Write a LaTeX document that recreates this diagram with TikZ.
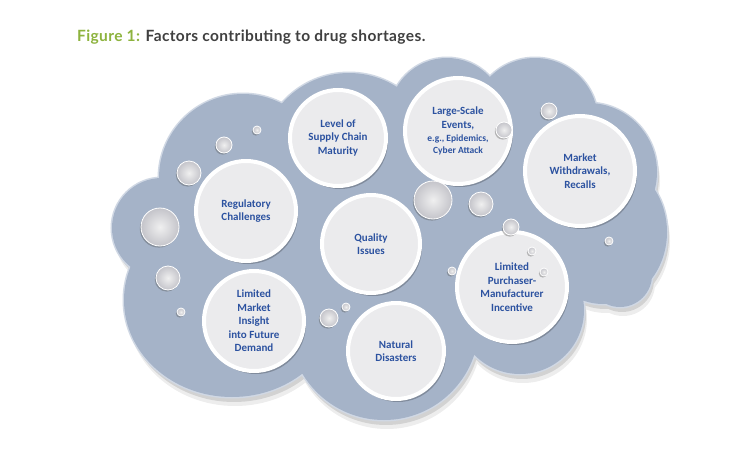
\documentclass[tikz,border=0pt]{standalone}
\usepackage{fontspec}
\setmainfont{Carlito}
\newfontfamily\titlefont{Lato}[LetterSpace=2.5]
\definecolor{cloud}{RGB}{165,179,200}
\definecolor{cloudrim}{RGB}{208,216,228}
\definecolor{labelblue}{RGB}{44,82,160}
\definecolor{figgreen}{RGB}{141,179,62}
\definecolor{titlegrey}{RGB}{64,64,64}
\definecolor{discfill}{RGB}{235,235,237}
\definecolor{bubblegrey}{RGB}{196,196,202}
\newcommand\cloudlobes{(162,228) circle[radius=50] (243,178) circle[radius=84] (349,162) circle[radius=89] (447,116) circle[radius=58] (535,121) circle[radius=63] (588,172) circle[radius=69] (603,232) ellipse[x radius=64, y radius=72] (620,275) circle[radius=32] (520,310) circle[radius=64] (384,325) circle[radius=95] (232,300) ellipse[x radius=108, y radius=97]}
\newcommand\cloudcore{(170,185) -- (290,105) -- (397,97) -- (490,87) -- (590,110) -- (645,185) -- (632,290) -- (580,300) -- (472,352) -- (310,375) -- (145,265) -- cycle}
\newcommand\lblfont{\bfseries\fontsize{11}{13.5}\selectfont}
\tikzset{
  disc/.style={circle, draw=white, line width=4pt, fill=discfill, inner sep=0pt,
    minimum size=#1, align=center, text=labelblue, font=\lblfont,
    preaction={fill=black, fill opacity=.22, draw=none, transform canvas={xshift=2pt,yshift=-3pt}}},
  bubble/.style={circle, inner sep=0pt, minimum size=#1, draw=white, line width=.8pt,
    inner color=white!94!black, outer color=bubblegrey,
    preaction={fill=black!70, fill opacity=.35, draw=none, transform canvas={xshift=-1.2pt,yshift=-1.6pt}}},
}
\begin{document}
\begin{tikzpicture}[x=1pt,y=-1pt]
\useasboundingbox (0,0) rectangle (750,450);
\fill[white] (0,0) rectangle (750,450);
% title
\node[anchor=base west, inner sep=0pt, text=titlegrey, font=\titlefont\bfseries\fontsize{15.5}{18}\selectfont] (title) at (77,41) {\textcolor{figgreen}{Figure 1:} Factors contributing to drug shortages.};
% cloud shadow, rim and body
\fill[black, opacity=.07, shift={(3,9)}] \cloudlobes;
\fill[black, opacity=.11, shift={(2,5)}] \cloudlobes;
\draw[cloudrim, line width=3pt] \cloudlobes;
\fill[cloud] \cloudlobes;
\fill[cloud] \cloudcore;
% factor discs
\node[disc=96pt] (level) at (338,138) {Level of\\Supply Chain\\Maturity};
\node[disc=106pt] (large) at (458,131) {Large-Scale\\Events,\\{\fontsize{9.5}{11.5}\selectfont e.g., Epidemics,}\\[-2pt]{\fontsize{9.5}{11.5}\selectfont Cyber Attack}};
\node[disc=110pt] (market) at (580,171) {Market\\Withdrawals,\\Recalls};
\node[disc=100pt] (regulatory) at (246,211) {Regulatory\\Challenges};
\node[disc=98pt] (quality) at (371,244) {Quality\\Issues};
\node[disc=110pt] (purchaser) at (512,287) {Limited\\Purchaser-\\Manufacturer\\Incentive};
\node[disc=100pt] (insight) at (254,321) {Limited\\Market\\Insight\\into Future\\Demand};
\node[disc=96pt] (natural) at (396,351) {Natural\\Disasters};
% bubbles
\node[bubble=8pt] (b1) at (257,130) {};
\node[bubble=16pt] (b2) at (224,145) {};
\node[bubble=24pt] (b3) at (189,173) {};
\node[bubble=38pt] (b4) at (160,227) {};
\node[bubble=24pt] (b5) at (168,278) {};
\node[bubble=8pt] (b6) at (181,312) {};
\node[bubble=18pt] (b7) at (329,318) {};
\node[bubble=8pt] (b8) at (346,307) {};
\node[bubble=38pt] (b9) at (433,200) {};
\node[bubble=24pt] (b10) at (481,204) {};
\node[bubble=16pt] (b11) at (504,130) {};
\node[bubble=16pt] (b12) at (549,111) {};
\node[bubble=16pt] (b13) at (511,227) {};
\node[bubble=8pt] (b14) at (532,251) {};
\node[bubble=8pt] (b15) at (544,272) {};
\node[bubble=8pt] (b16) at (452,271) {};
\node[bubble=8pt] (b17) at (609,241) {};
\end{tikzpicture}
\end{document}
